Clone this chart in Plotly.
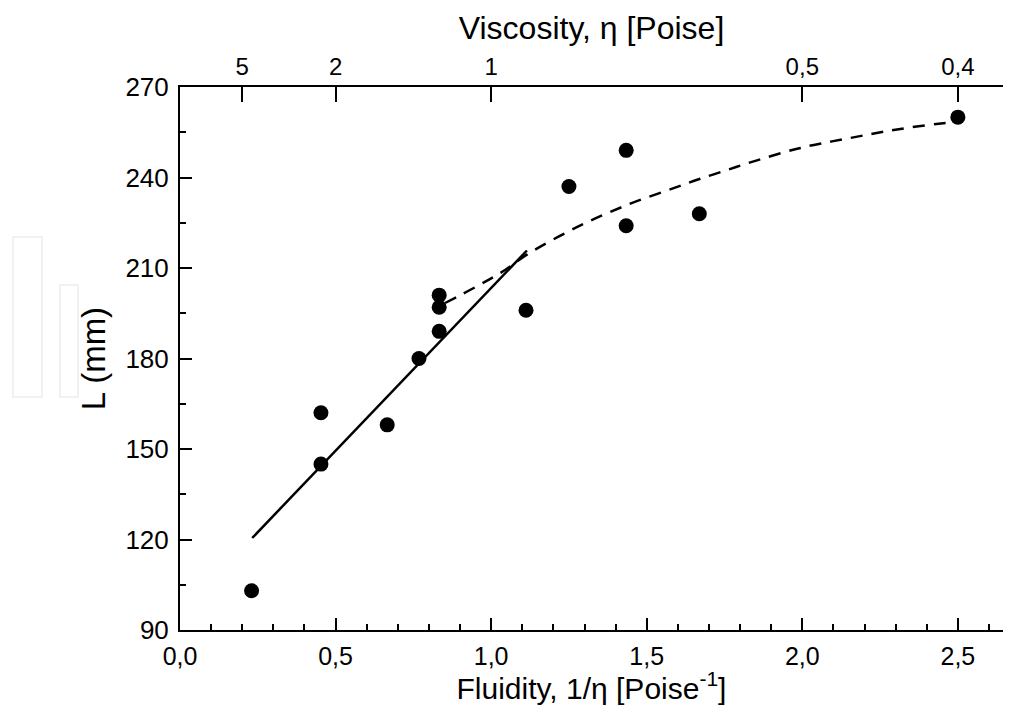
import plotly.graph_objects as go

# Measured points: fluidity 1/eta [Poise^-1] vs L (mm)
fluidity = [0.23, 0.453, 0.453, 0.666, 0.768, 0.833, 0.833, 0.833, 1.112, 1.25, 1.434, 1.434, 1.669, 2.5]
length_mm = [103, 162, 145, 158, 180, 189, 197, 201, 196, 237, 249, 224, 228, 260]

# Linear fit (solid)
fit_x = [0.232, 1.115]
fit_y = [120.5, 215.8]

# Saturating trend (dashed)
trend_x = [0.852, 1.029, 1.116, 1.277, 1.437, 1.598, 1.672, 1.759, 1.833, 1.994, 2.154, 2.315, 2.476, 2.5]
trend_y = [198.4, 208.3, 214.5, 223.6, 230.9, 236.9, 239.6, 242.5, 245.0, 249.8, 253.1, 256.1, 258.3, 258.6]

# Top axis (viscosity) ticks
visc_pos = [0.2, 0.5, 1.0, 2.0, 2.5]
visc_text = ["5", "2", "1", "0,5", "0,4"]

x_range = [0, 2.645]
y_range = [90, 270]

NARROW = "Liberation Sans Narrow, Arial Narrow, Liberation Sans, Arial"
NORMAL = "Liberation Sans, Arial"

fig = go.Figure()
fig.add_trace(go.Scatter(x=fit_x, y=fit_y, mode="lines",
                         line=dict(color="black", width=2.5), hoverinfo="skip", showlegend=False))
fig.add_trace(go.Scatter(x=trend_x, y=trend_y, mode="lines", line_shape="spline",
                         line=dict(color="black", width=2.5, dash="12px,9px"), hoverinfo="skip", showlegend=False))
fig.add_trace(go.Scatter(x=fluidity, y=length_mm, mode="markers",
                         marker=dict(color="black", size=15), showlegend=False))
# invisible trace to anchor the top axis
fig.add_trace(go.Scatter(x=fluidity, y=length_mm, xaxis="x2", mode="markers",
                         marker=dict(opacity=0), hoverinfo="skip", showlegend=False))

# faint watermark boxes at left
for (x0, y0, x1, y1) in [(13, 237, 42, 397), (60, 285, 78, 397)]:
    fig.add_shape(type="rect", xref="paper", yref="paper",
                  x0=(x0 - 180) / 823, x1=(x1 - 180) / 823,
                  y0=(630 - y1) / 543, y1=(630 - y0) / 543,
                  line=dict(color="#f1f1f1", width=2), fillcolor="rgba(0,0,0,0)", layer="below")

fig.update_layout(
    width=1011, height=705,
    margin=dict(l=180, r=8, t=87, b=75),
    plot_bgcolor="white", paper_bgcolor="white",
    separators=", ",
    xaxis=dict(
        range=x_range, showline=True, linecolor="black", linewidth=2,
        ticks="inside", ticklen=12, tickwidth=2, tickcolor="black",
        dtick=0.5, tick0=0, tickformat=".1f",
        minor=dict(ticks="inside", ticklen=6, tickwidth=1.5, dtick=0.1, tickcolor="black"),
        showgrid=False, zeroline=False, mirror=False,
        tickfont=dict(family=NARROW, size=25, color="black"),
        ticklabelstandoff=3,
        title=dict(text="Fluidity, 1/η [Poise<sup>-1</sup>]", standoff=4,
                   font=dict(family=NARROW, size=30, color="black")),
    ),
    xaxis2=dict(
        range=x_range, overlaying="x", side="top", anchor="y",
        showline=True, linecolor="black", linewidth=2,
        ticks="inside", ticklen=15, tickwidth=2, tickcolor="black",
        tickmode="array", tickvals=visc_pos, ticktext=visc_text,
        showgrid=False, zeroline=False,
        tickfont=dict(family=NARROW, size=24, color="black"),
        title=dict(text="Viscosity, η [Poise]", standoff=4,
                   font=dict(family=NARROW, size=32, color="black")),
    ),
    yaxis=dict(
        range=y_range, showline=True, linecolor="black", linewidth=2,
        ticks="inside", ticklen=12, tickwidth=2, tickcolor="black",
        dtick=30, tick0=90,
        minor=dict(ticks="inside", ticklen=6, tickwidth=1.5, dtick=15, tickcolor="black"),
        showgrid=False, zeroline=False, mirror=False,
        tickfont=dict(family=NORMAL, size=26, color="black"),
        ticklabelstandoff=4,
        title=dict(text="L (mm)", standoff=10,
                   font=dict(family=NORMAL, size=33, color="black")),
    ),
)

fig.write_html("out.html")
